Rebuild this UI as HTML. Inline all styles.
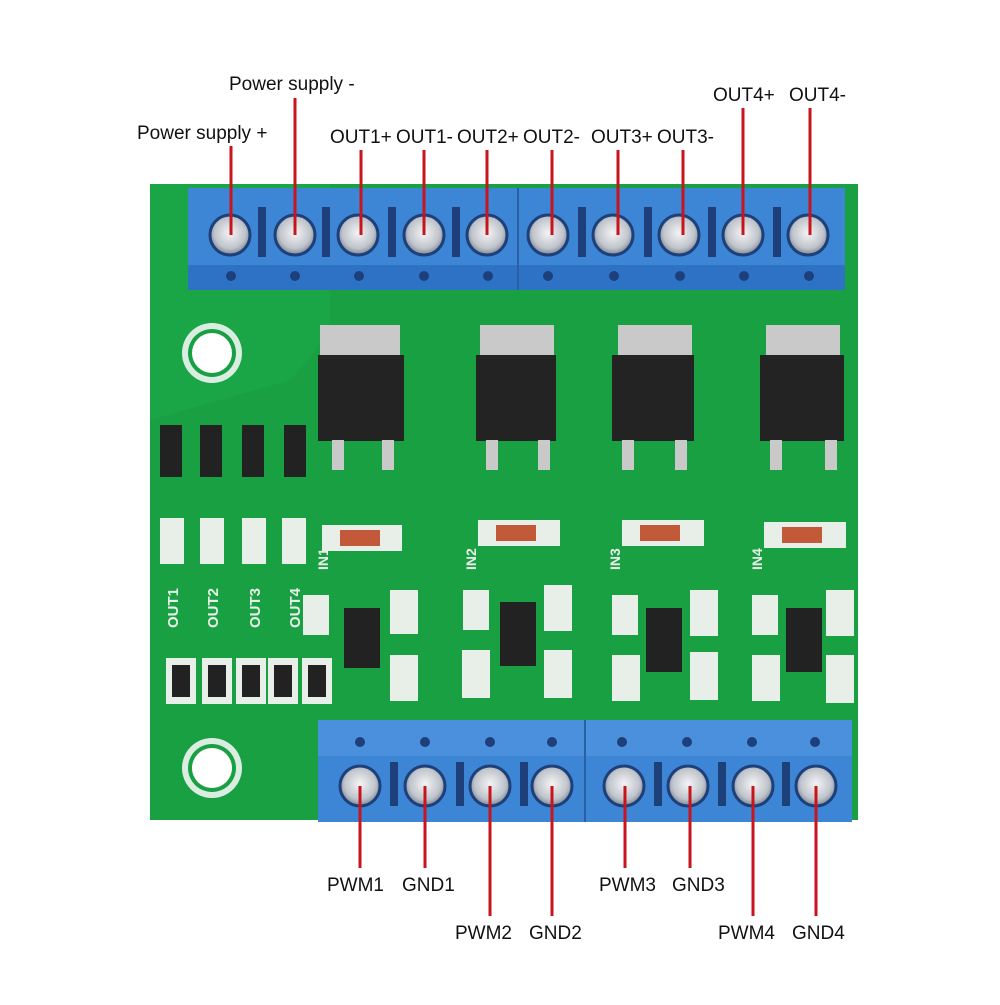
<!DOCTYPE html>
<html><head><meta charset="utf-8"><style>
html,body{margin:0;padding:0;background:#fff;}
svg text{font-family:"Liberation Sans",sans-serif;font-size:19px;fill:#111;}
</style></head><body>
<svg width="1000" height="1000" viewBox="0 0 1000 1000" xmlns="http://www.w3.org/2000/svg">
<defs>
<radialGradient id="sc" cx="50%" cy="45%" r="55%"><stop offset="0" stop-color="#f4f4f4"/><stop offset="0.7" stop-color="#bfc4cc"/><stop offset="1" stop-color="#7b8490"/></radialGradient>
</defs>
<rect x="150" y="184" width="708" height="636" fill="#18a043"/>
<path d="M150 420 L290 380 Q310 360 330 330 L330 184 L150 184Z" fill="#1aa647"/>
<circle cx="212" cy="353" r="30" fill="#d9eee0"/><circle cx="212" cy="353" r="24" fill="#18a043"/><circle cx="212" cy="353" r="20" fill="#fff"/>
<circle cx="212" cy="768" r="30" fill="#d9eee0"/><circle cx="212" cy="768" r="24" fill="#18a043"/><circle cx="212" cy="768" r="20" fill="#fff"/>
<rect x="188" y="188" width="657" height="102" fill="#3d86d6"/>
<rect x="188" y="265" width="657" height="25" fill="#2e72c6"/>
<line x1="518" y1="188" x2="518" y2="290" stroke="#2a5fa8" stroke-width="2"/>
<g fill="#1d3f7a">
<rect x="258" y="207" width="8" height="50"/><rect x="322" y="207" width="8" height="50"/><rect x="388" y="207" width="8" height="50"/><rect x="452" y="207" width="8" height="50"/><rect x="578" y="207" width="8" height="50"/><rect x="644" y="207" width="8" height="50"/><rect x="708" y="207" width="8" height="50"/><rect x="773" y="207" width="8" height="50"/>
<circle cx="231" cy="276" r="5"/><circle cx="295" cy="276" r="5"/><circle cx="359" cy="276" r="5"/><circle cx="424" cy="276" r="5"/><circle cx="488" cy="276" r="5"/><circle cx="548" cy="276" r="5"/><circle cx="614" cy="276" r="5"/><circle cx="680" cy="276" r="5"/><circle cx="744" cy="276" r="5"/><circle cx="809" cy="276" r="5"/>
</g>
<g stroke="#1d3f7a" stroke-width="3" fill="url(#sc)">
<circle cx="230" cy="235" r="20"/><circle cx="295" cy="235" r="20"/><circle cx="358" cy="235" r="20"/><circle cx="424" cy="235" r="20"/><circle cx="487" cy="235" r="20"/><circle cx="548" cy="235" r="20"/><circle cx="613" cy="235" r="20"/><circle cx="679" cy="235" r="20"/><circle cx="743" cy="235" r="20"/><circle cx="808" cy="235" r="20"/>
</g>
<g>
<rect x="320" y="325" width="80" height="40" fill="#c9c9c9"/><rect x="318" y="355" width="86" height="86" fill="#232323"/>
<rect x="332" y="440" width="12" height="30" fill="#c9c9c9"/><rect x="382" y="440" width="12" height="30" fill="#c9c9c9"/>
<rect x="480" y="325" width="74" height="40" fill="#c9c9c9"/><rect x="476" y="355" width="80" height="86" fill="#232323"/>
<rect x="486" y="440" width="12" height="30" fill="#c9c9c9"/><rect x="538" y="440" width="12" height="30" fill="#c9c9c9"/>
<rect x="618" y="325" width="74" height="40" fill="#c9c9c9"/><rect x="612" y="355" width="82" height="86" fill="#232323"/>
<rect x="622" y="440" width="12" height="30" fill="#c9c9c9"/><rect x="675" y="440" width="12" height="30" fill="#c9c9c9"/>
<rect x="766" y="325" width="74" height="40" fill="#c9c9c9"/><rect x="760" y="355" width="84" height="86" fill="#232323"/>
<rect x="770" y="440" width="12" height="30" fill="#c9c9c9"/><rect x="825" y="440" width="12" height="30" fill="#c9c9c9"/>
</g>
<g fill="#222"><rect x="160" y="425" width="22" height="52"/><rect x="200" y="425" width="22" height="52"/><rect x="242" y="425" width="22" height="52"/><rect x="284" y="425" width="22" height="52"/></g>
<g fill="#e8efe9"><rect x="160" y="518" width="24" height="46"/><rect x="200" y="518" width="24" height="46"/><rect x="242" y="518" width="24" height="46"/><rect x="282" y="518" width="24" height="46"/></g>
<text transform="translate(178,628) rotate(-90)" style="fill:#e8efe9;font-size:15px;font-weight:bold">OUT1</text>
<text transform="translate(218,628) rotate(-90)" style="fill:#e8efe9;font-size:15px;font-weight:bold">OUT2</text>
<text transform="translate(260,628) rotate(-90)" style="fill:#e8efe9;font-size:15px;font-weight:bold">OUT3</text>
<text transform="translate(300,628) rotate(-90)" style="fill:#e8efe9;font-size:15px;font-weight:bold">OUT4</text>
<g fill="#e8efe9"><rect x="166" y="658" width="30" height="46"/><rect x="202" y="658" width="30" height="46"/><rect x="236" y="658" width="30" height="46"/><rect x="268" y="658" width="30" height="46"/><rect x="302" y="658" width="30" height="46"/></g>
<g fill="#222"><rect x="172" y="665" width="18" height="32"/><rect x="208" y="665" width="18" height="32"/><rect x="242" y="665" width="18" height="32"/><rect x="274" y="665" width="18" height="32"/><rect x="308" y="665" width="18" height="32"/></g>
<g>
<rect x="322" y="525" width="80" height="26" fill="#e8efe9"/><rect x="340" y="530" width="40" height="16" fill="#c25a3a"/>
<rect x="478" y="520" width="82" height="26" fill="#e8efe9"/><rect x="496" y="525" width="40" height="16" fill="#c25a3a"/>
<rect x="622" y="520" width="82" height="26" fill="#e8efe9"/><rect x="640" y="525" width="40" height="16" fill="#c25a3a"/>
<rect x="764" y="522" width="82" height="26" fill="#e8efe9"/><rect x="782" y="527" width="40" height="16" fill="#c25a3a"/>
</g>
<g fill="#222">
<rect x="344" y="608" width="36" height="60"/><rect x="500" y="602" width="36" height="64"/><rect x="646" y="608" width="36" height="64"/><rect x="786" y="608" width="36" height="64"/>
</g>
<g fill="#e8efe9">
<rect x="303" y="595" width="26" height="40"/><rect x="390" y="590" width="28" height="44"/><rect x="390" y="655" width="28" height="46"/>
<rect x="463" y="590" width="26" height="40"/><rect x="544" y="585" width="28" height="46"/><rect x="462" y="650" width="28" height="48"/><rect x="544" y="650" width="28" height="48"/>
<rect x="612" y="595" width="26" height="40"/><rect x="690" y="590" width="28" height="46"/><rect x="612" y="655" width="28" height="46"/><rect x="690" y="652" width="28" height="48"/>
<rect x="752" y="595" width="26" height="40"/><rect x="826" y="590" width="28" height="46"/><rect x="752" y="655" width="28" height="46"/><rect x="826" y="655" width="28" height="48"/>
</g>
<rect x="318" y="720" width="534" height="102" fill="#3d86d6"/>
<rect x="318" y="720" width="534" height="36" fill="#4a90dc"/>
<line x1="585" y1="720" x2="585" y2="822" stroke="#2a5fa8" stroke-width="2"/>
<g fill="#1d3f7a">
<circle cx="360" cy="742" r="5"/><circle cx="425" cy="742" r="5"/><circle cx="490" cy="742" r="5"/><circle cx="552" cy="742" r="5"/><circle cx="622" cy="742" r="5"/><circle cx="687" cy="742" r="5"/><circle cx="752" cy="742" r="5"/><circle cx="815" cy="742" r="5"/>
<rect x="390" y="762" width="8" height="44"/><rect x="456" y="762" width="8" height="44"/><rect x="520" y="762" width="8" height="44"/><rect x="654" y="762" width="8" height="44"/><rect x="718" y="762" width="8" height="44"/><rect x="782" y="762" width="8" height="44"/>
</g>
<g stroke="#1d3f7a" stroke-width="3" fill="url(#sc)">
<circle cx="360" cy="786" r="20"/><circle cx="425" cy="786" r="20"/><circle cx="490" cy="786" r="20"/><circle cx="552" cy="786" r="20"/><circle cx="624" cy="786" r="20"/><circle cx="688" cy="786" r="20"/><circle cx="753" cy="786" r="20"/><circle cx="816" cy="786" r="20"/>
</g>
<g stroke="#c8141c" stroke-width="3">
<line x1="231" y1="146" x2="231" y2="235"/><line x1="295" y1="98" x2="295" y2="235"/>
<line x1="361" y1="150" x2="361" y2="235"/><line x1="424" y1="150" x2="424" y2="235"/><line x1="487" y1="150" x2="487" y2="235"/><line x1="552" y1="150" x2="552" y2="235"/><line x1="618" y1="150" x2="618" y2="235"/><line x1="683" y1="150" x2="683" y2="235"/>
<line x1="743" y1="108" x2="743" y2="235"/><line x1="810" y1="108" x2="810" y2="235"/>
<line x1="360" y1="786" x2="360" y2="868"/><line x1="425" y1="786" x2="425" y2="868"/><line x1="490" y1="786" x2="490" y2="916"/><line x1="552" y1="786" x2="552" y2="916"/>
<line x1="625" y1="786" x2="625" y2="868"/><line x1="690" y1="786" x2="690" y2="868"/><line x1="753" y1="786" x2="753" y2="916"/><line x1="816" y1="786" x2="816" y2="916"/>
</g>
<text x="229" y="90">Power supply -</text>
<text x="137" y="139">Power supply +</text>
<text x="330" y="143">OUT1+</text><text x="396" y="143">OUT1-</text><text x="457" y="143">OUT2+</text><text x="523" y="143">OUT2-</text>
<text x="591" y="143">OUT3+</text><text x="657" y="143">OUT3-</text>
<text x="713" y="101">OUT4+</text><text x="789" y="101">OUT4-</text>
<text x="327" y="891">PWM1</text><text x="402" y="891">GND1</text>
<text x="455" y="939">PWM2</text><text x="529" y="939">GND2</text>
<text x="599" y="891">PWM3</text><text x="672" y="891">GND3</text>
<text x="718" y="939">PWM4</text><text x="792" y="939">GND4</text>
<text transform="translate(328,570) rotate(-90)" style="fill:#e8efe9;font-size:14px;font-weight:bold">IN1</text>
<text transform="translate(476,570) rotate(-90)" style="fill:#e8efe9;font-size:14px;font-weight:bold">IN2</text>
<text transform="translate(620,570) rotate(-90)" style="fill:#e8efe9;font-size:14px;font-weight:bold">IN3</text>
<text transform="translate(762,570) rotate(-90)" style="fill:#e8efe9;font-size:14px;font-weight:bold">IN4</text>
</svg>
</body></html>
